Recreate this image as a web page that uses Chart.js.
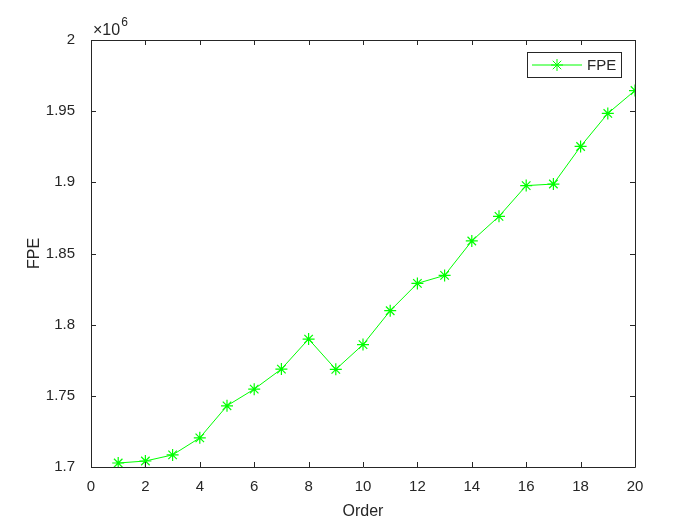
<!DOCTYPE html>
<html>
<head>
<meta charset="utf-8">
<script src="https://cdn.jsdelivr.net/npm/chart.js@4"></script>
<style>
  html, body { margin: 0; padding: 0; background: #fff; }
  #wrap { width: 700px; height: 525px; }
</style>
</head>
<body>
<div id="wrap"><canvas id="chart" width="700" height="525"></canvas></div>
<script>
const orders = [1, 2, 3, 4, 5, 6, 7, 8, 9, 10, 11, 12, 13, 14, 15, 16, 17, 18, 19, 20];
const fpeValues = [
  1702800, 1704200, 1708500, 1720500, 1743000, 1754700, 1768800, 1789900, 1768600, 1786000,
  1809800, 1829000, 1834600, 1858800, 1876100, 1897700, 1898800, 1925200, 1948400, 1964500
];
const xTicks = [0, 2, 4, 6, 8, 10, 12, 14, 16, 18, 20];
const yTicks = [1700000, 1750000, 1800000, 1850000, 1900000, 1950000, 2000000];

const axisColor = '#262626';
const fontFamily = '"Liberation Sans", Arial, Helvetica, sans-serif';

// box, inward ticks, exponent label and legend (MATLAB look)
const matlabAxes = {
  id: 'matlabAxes',
  afterDraw(chart) {
    const ctx = chart.ctx;
    const { left, right, top, bottom } = chart.chartArea;
    const xs = chart.scales.x, ys = chart.scales.y;
    const tl = 5;
    ctx.save();
    ctx.strokeStyle = axisColor;
    ctx.lineWidth = 1;
    ctx.beginPath();
    ctx.rect(Math.round(left) + 0.5, Math.round(top) + 0.5, Math.round(right - left), Math.round(bottom - top));
    ctx.stroke();
    ctx.beginPath();
    xTicks.forEach(v => {
      const px = Math.round(xs.getPixelForValue(v)) + 0.5;
      ctx.moveTo(px, bottom); ctx.lineTo(px, bottom - tl);
      ctx.moveTo(px, top); ctx.lineTo(px, top + tl);
    });
    yTicks.forEach(v => {
      const py = Math.round(ys.getPixelForValue(v)) + 0.5;
      ctx.moveTo(left, py); ctx.lineTo(left + tl, py);
      ctx.moveTo(right, py); ctx.lineTo(right - tl, py);
    });
    ctx.stroke();

    // x10^6
    ctx.fillStyle = axisColor;
    ctx.textBaseline = 'alphabetic';
    ctx.textAlign = 'left';
    ctx.font = '16px ' + fontFamily;
    ctx.fillText('\u00d710', left + 2, top - 5);
    const w = ctx.measureText('\u00d710').width;
    ctx.font = '12px ' + fontFamily;
    ctx.fillText('6', left + 3 + w, top - 14);

    // legend
    const ds = chart.data.datasets[0];
    const lx = 527, ly = 52, lw = 94, lh = 25;
    ctx.fillStyle = '#fff';
    ctx.fillRect(lx, ly, lw, lh);
    ctx.strokeStyle = axisColor;
    ctx.strokeRect(lx + 0.5, ly + 0.5, lw, lh);
    const cy = ly + lh / 2 + 0.5;
    ctx.strokeStyle = ds.borderColor;
    ctx.lineWidth = 1;
    ctx.beginPath();
    ctx.moveTo(lx + 5, cy); ctx.lineTo(lx + 55, cy);
    ctx.stroke();
    Chart.helpers.drawPoint(ctx, { pointStyle: 'star', radius: 6, borderWidth: 1.2 }, lx + 30, cy);
    ctx.fillStyle = axisColor;
    ctx.font = '15px ' + fontFamily;
    ctx.textBaseline = 'middle';
    ctx.fillText(ds.label, lx + 60, cy + 1);
    ctx.restore();
  }
};

new Chart(document.getElementById('chart'), {
  type: 'line',
  data: {
    datasets: [{
      label: 'FPE',
      data: orders.map((o, i) => ({ x: o, y: fpeValues[i] })),
      borderColor: '#00ff00',
      backgroundColor: '#00ff00',
      borderWidth: 1,
      pointStyle: 'star',
      pointRadius: 6,
      pointBorderWidth: 1.2,
      pointBorderColor: '#00ff00',
      tension: 0,
      fill: false
    }]
  },
  options: {
    responsive: false,
    animation: false,
    layout: { padding: { left: 0, right: 65, top: 40, bottom: 0 } },
    plugins: {
      legend: { display: false },
      tooltip: { enabled: false }
    },
    scales: {
      x: {
        type: 'linear',
        min: 0, max: 20,
        afterBuildTicks: s => { s.ticks = xTicks.map(v => ({ value: v })); },
        afterFit: s => { s.height = 58; },
        grid: { display: false },
        border: { display: false },
        ticks: { color: axisColor, font: { family: fontFamily, size: 15 }, padding: 3, maxRotation: 0 },
        title: { display: true, text: 'Order', color: axisColor, font: { family: fontFamily, size: 16 }, padding: { top: 0 } }
      },
      y: {
        type: 'linear',
        min: 1700000, max: 2000000,
        afterBuildTicks: s => { s.ticks = yTicks.map(v => ({ value: v })); },
        afterFit: s => { s.width = 91; },
        grid: { display: false },
        border: { display: false },
        ticks: {
          color: axisColor, font: { family: fontFamily, size: 15 }, padding: 8,
          callback: v => String(+(v / 1e6).toFixed(2))
        },
        title: { display: true, text: 'FPE', color: axisColor, font: { family: fontFamily, size: 16 }, padding: { top: 25, bottom: 0 } }
      }
    }
  },
  plugins: [matlabAxes]
});
</script>
</body>
</html>
